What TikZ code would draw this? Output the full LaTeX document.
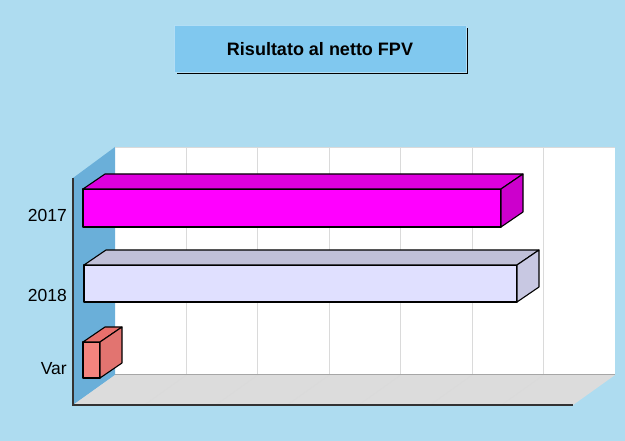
\documentclass[tikz,border=0pt]{standalone}
\usepackage{fontspec}
\setmainfont{Liberation Sans}
\definecolor{BackClr}{HTML}{AEDCF0}
\definecolor{TitleClr}{HTML}{80C8EF}
\definecolor{SideWallClr}{HTML}{6AAFD9}
\definecolor{FloorClr}{HTML}{DCDCDC}
\definecolor{GridClr}{HTML}{DADADA}
\definecolor{MagentaFront}{HTML}{FF00FF}
\definecolor{MagentaTop}{HTML}{DD00DD}
\definecolor{MagentaSide}{HTML}{CC00CC}
\definecolor{LavFront}{HTML}{E0E0FF}
\definecolor{LavTop}{HTML}{C0C0D8}
\definecolor{LavSide}{HTML}{C8C8E2}
\definecolor{SalmonFront}{HTML}{F4847E}
\definecolor{SalmonTop}{HTML}{E8706C}
\definecolor{SalmonSide}{HTML}{E27470}

% one 3d bar: x0, x1, y0, y1, front, top, side
\newcommand{\chartbar}[7]{%
  \filldraw[barline,fill=#5] (#1,#3) rectangle (#2,#4);
  \filldraw[barline,fill=#6] (#1,#3) -- ++(22,-15) -- (#2+22,#3-15) -- (#2,#3) -- cycle;
  \filldraw[barline,fill=#7] (#2,#3) -- ++(22,-15) -- (#2+22,#4-15) -- (#2,#4) -- cycle;
}

\begin{document}
\begin{tikzpicture}[x=1pt,y=-1pt,
  barline/.style={line width=1.1pt,draw=black,line join=round},
  catlabel/.style={anchor=east,inner sep=0pt,font=\fontsize{17.5}{20}\selectfont}]
\useasboundingbox (0,0) rectangle (625,441);
\fill[BackClr] (0,0) rectangle (625,441);

% Title box with its shadow.
\draw[black,line width=2pt] (177,73) -- (467,73) -- (467,28);
\filldraw[fill=TitleClr,draw=TitleClr!60!white,line width=0.6pt] (174,25) rectangle (466,72);
\node[font=\bfseries\fontsize{18}{21}\selectfont] (title) at (320,49) {Risultato al netto FPV};

% Walls and floor.
\fill[white] (115,147) rectangle (615,375);
\fill[SideWallClr] (115,147) -- (73,178) -- (73,405) -- (115,375) -- cycle;
\fill[FloorClr] (115,375) -- (615,375) -- (573,405) -- (73,405) -- cycle;
\draw[GridClr,line width=0.6pt] (115,147) -- (615,147);
\foreach \k in {1,...,6} {
  \draw[GridClr,line width=0.9pt] (115+71.43*\k,147) -- (115+71.43*\k,375);
  \draw[GridClr!85!FloorClr,line width=0.6pt] (115+71.43*\k,375) -- (73+71.43*\k,405);
}
\draw[gray!70,line width=1pt] (115,375) -- (615,375);
\draw[black!80,line width=1.2pt] (73,178) -- (73,405) -- (573,405);

% Bars.
\chartbar{83}{501}{189}{227}{MagentaFront}{MagentaTop}{MagentaSide}
\chartbar{84}{517}{265}{302}{LavFront}{LavTop}{LavSide}
\chartbar{83}{100}{342}{378}{SalmonFront}{SalmonTop}{SalmonSide}

% Category labels.
\node[catlabel] (l2017) at (67,215.5) {2017};
\node[catlabel] (l2018) at (67,295) {2018};
\node[catlabel] (lvar) at (67,368.5) {Var};

\end{tikzpicture}
\end{document}
